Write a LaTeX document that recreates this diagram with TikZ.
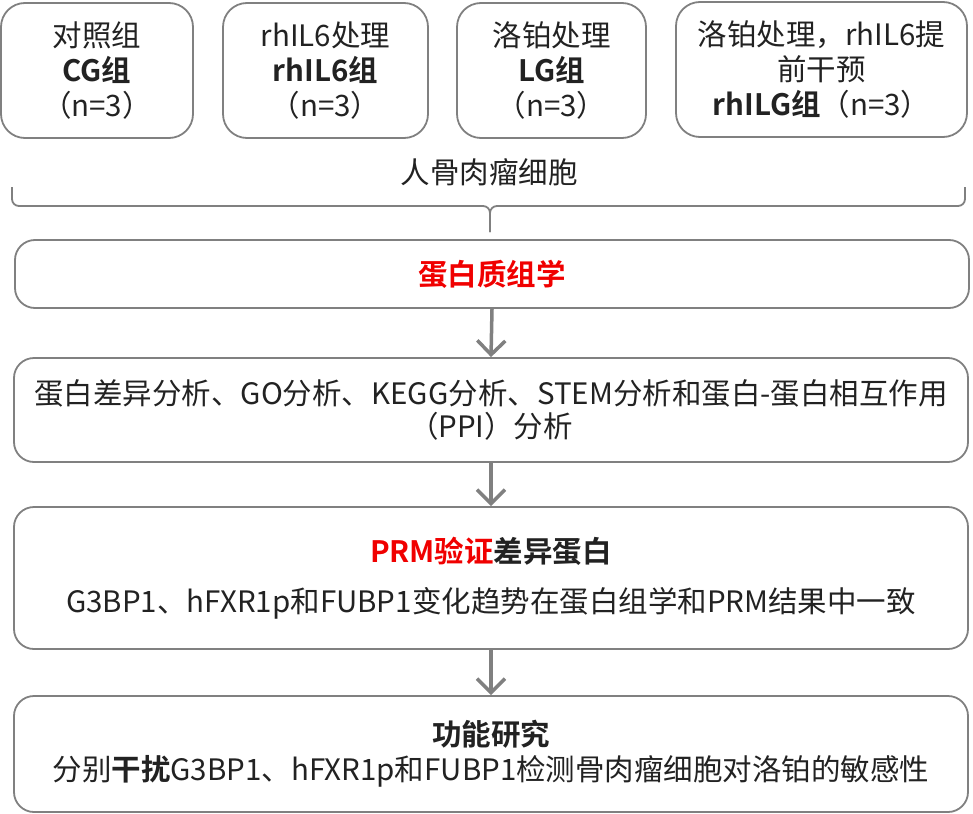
\documentclass[tikz,border=0pt]{standalone}
\usepackage{fontspec}
\setmainfont{Noto Sans CJK SC}[BoldFont={Noto Sans CJK SC Bold}]
\usetikzlibrary{arrows.meta}
\definecolor{linegray}{HTML}{808080}
\definecolor{txt}{HTML}{222222}
\definecolor{hired}{HTML}{F00000}
\tikzset{
  grpbox/.style={draw=linegray, line width=1.8pt, rounded corners=24pt, align=center, text=txt,
    font=\fontsize{29.5}{35}\selectfont, inner sep=0pt},
  mainbox/.style={draw=linegray, line width=1.8pt, rounded corners=20pt, align=center, text=txt,
    minimum width=954pt, inner sep=0pt},
  flowarrow/.style={draw=linegray, line width=3.5pt, -{Straight Barb[length=14pt,width=28pt,line width=3.5pt]}},
  bracestyle/.style={draw=linegray, line width=1.8pt, rounded corners=7pt}
}
\begin{document}
\begin{tikzpicture}[x=1pt,y=-1pt]
\useasboundingbox (0,0) rectangle (973,813);
% top group boxes
\node[grpbox, minimum width=192pt, minimum height=135pt] (g1) at (97,70.5)
  {对照组\\\textbf{CG组}\\（n=3）};
\node[grpbox, minimum width=205pt, minimum height=135pt] (g2) at (325.5,70.5)
  {rhIL6处理\\\textbf{rhIL6组}\\（n=3）};
\node[grpbox, minimum width=189pt, minimum height=135pt] (g3) at (551.5,70.5)
  {洛铂处理\\\textbf{LG组}\\（n=3）};
\node[grpbox, minimum width=291pt, minimum height=135pt] (g4) at (821.5,69.5)
  {洛铂处理，rhIL6提\\前干预\\\textbf{rhILG组}（n=3）};
% label and brace
\node[text=txt, font=\fontsize{29.5}{30}\selectfont, inner sep=0pt] (cells) at (489,172) {人骨肉瘤细胞};
\coordinate (bl) at (12,187);
\coordinate (br) at (965,187);
\coordinate (bm) at (490,206);
\coordinate (btip) at (490,232);
\draw[bracestyle] (bl) -- (12,206) -- (bm) -- (btip);
\draw[bracestyle] (br) -- (965,206) -- (bm) -- (btip);
% main flow boxes
\node[mainbox, minimum height=68pt, font=\fontsize{29.5}{30}\selectfont\bfseries, text=hired] (m1) at (492,274)
  {蛋白质组学};
\node[mainbox, minimum height=104pt, font=\fontsize{29.5}{33}\selectfont] (m2) at (491,410)
  {蛋白差异分析、GO分析、KEGG分析、STEM分析和蛋白-蛋白相互作用\\（PPI）分析};
\node[mainbox, minimum height=142pt, font=\fontsize{29.5}{33}\selectfont] (m3) at (491,578)
  {\textbf{\textcolor{hired}{PRM验证}差异蛋白}\\[17pt]G3BP1、hFXR1p和FUBP1变化趋势在蛋白组学和PRM结果中一致};
\node[mainbox, minimum height=116pt, font=\fontsize{29.5}{35}\selectfont] (m4) at (491,754)
  {\textbf{功能研究}\\分别\textbf{干扰}G3BP1、hFXR1p和FUBP1检测骨肉瘤细胞对洛铂的敏感性};
% arrows
\draw[flowarrow] (m1.south) -- (m2.north);
\draw[flowarrow] (m2.south) -- (m3.north);
\draw[flowarrow] (m3.south) -- (m4.north);
\end{tikzpicture}
\end{document}
